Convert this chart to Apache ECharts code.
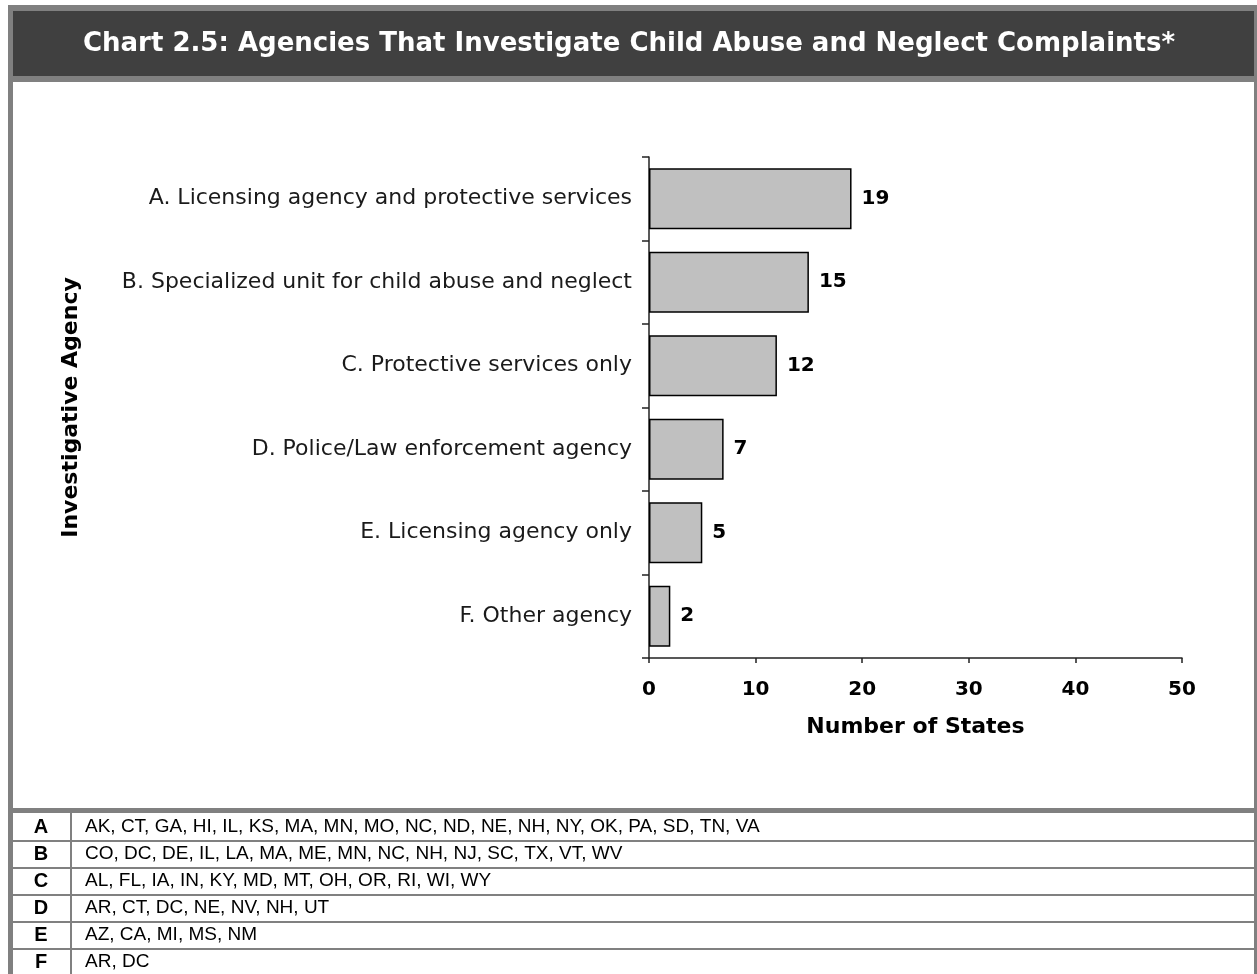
<!DOCTYPE html>
<html>
<head>
<meta charset="utf-8">
<script src="https://cdn.jsdelivr.net/npm/echarts@6/dist/echarts.min.js"></script>
<style>
html,body{margin:0;padding:0;background:#fff;}
#chart{width:1257px;height:974px;}
</style>
</head>
<body>
<div id="chart"></div>
<script>
const titleText = 'Chart 2.5: Agencies That Investigate Child Abuse and Neglect Complaints*';
const categories = [
  'A. Licensing agency and protective services',
  'B. Specialized unit for child abuse and neglect',
  'C. Protective services only',
  'D. Police/Law enforcement agency',
  'E. Licensing agency only',
  'F. Other agency'
];
const values = [19, 15, 12, 7, 5, 2];
const xTicks = [0, 10, 20, 30, 40, 50];
const xAxisName = 'Number of States';
const yAxisName = 'Investigative Agency';
const tableLetters = ['A', 'B', 'C', 'D', 'E', 'F'];
const tableStates = [
  'AK, CT, GA, HI, IL, KS, MA, MN, MO, NC, ND, NE, NH, NY, OK, PA, SD, TN, VA',
  'CO, DC, DE, IL, LA, MA, ME, MN, NC, NH, NJ, SC, TX, VT, WV',
  'AL, FL, IA, IN, KY, MD, MT, OH, OR, RI, WI, WY',
  'AR, CT, DC, NE, NV, NH, UT',
  'AZ, CA, MI, MS, NM',
  'AR, DC'
];

const GRAY = '#808080';
const VFONT = 'DejaVu Sans, Verdana, sans-serif';
const AFONT = 'Liberation Sans, Arial, sans-serif';

const graphics = [
  {type:'rect', shape:{x:8,y:5,width:1249,height:969}, style:{fill:GRAY}, z:-10, silent:true},
  {type:'rect', shape:{x:13,y:11,width:1241,height:65}, style:{fill:'#404040'}, z:-9, silent:true},
  {type:'rect', shape:{x:13,y:82,width:1241,height:726}, style:{fill:'#ffffff'}, z:-9, silent:true},
  {type:'text', x:629, y:44, style:{text:titleText, fill:'#ffffff', font:'bold 26px ' + VFONT, textAlign:'center', textVerticalAlign:'middle'}, z:5}
];
const rowTop = 813, rowPitch = 27;
tableLetters.forEach(function(l, i){
  const y0 = rowTop + i*rowPitch;
  const h = (i === 0) ? 27 : 25;
  const yy = (i === 0) ? y0 : y0 + 2;
  graphics.push({type:'rect', shape:{x:13,y:yy,width:57,height:h+ (i===5?20:0)}, style:{fill:'#fff'}, z:-9, silent:true});
  graphics.push({type:'rect', shape:{x:72,y:yy,width:1182,height:h+ (i===5?20:0)}, style:{fill:'#fff'}, z:-9, silent:true});
  const cy = y0 + 14;
  graphics.push({type:'text', x:41, y:cy, style:{text:l, fill:'#000', font:'bold 20px ' + AFONT, textAlign:'center', textVerticalAlign:'middle'}, z:5});
  graphics.push({type:'text', x:85, y:cy, style:{text:tableStates[i], fill:'#000', font:'19px ' + AFONT, textAlign:'left', textVerticalAlign:'middle'}, z:5});
});

const chart = echarts.init(document.getElementById('chart'), null, {renderer:'canvas'});
chart.setOption({
  animation:false,
  backgroundColor:'transparent',
  graphic: graphics,
  grid:{left:649, right:75, top:157, bottom:316, containLabel:false},
  xAxis:{
    type:'value', min:xTicks[0], max:xTicks[xTicks.length-1], interval:10,
    name:xAxisName, nameLocation:'middle', nameGap:58,
    nameTextStyle:{fontFamily:VFONT, fontWeight:'bold', fontSize:22, color:'#000'},
    axisLine:{show:true, lineStyle:{color:'#222', width:1.5}},
    axisTick:{show:true, length:5, lineStyle:{color:'#222', width:1.5}},
    splitLine:{show:false},
    axisLabel:{margin:22, fontFamily:VFONT, fontWeight:'bold', fontSize:20, color:'#000'}
  },
  yAxis:{
    type:'category', data:categories, inverse:true,
    name:yAxisName, nameLocation:'middle', nameGap:567, nameRotate:90,
    nameTextStyle:{fontFamily:VFONT, fontWeight:'bold', fontSize:22, color:'#000'},
    axisLine:{show:true, lineStyle:{color:'#222', width:1.5}},
    axisTick:{show:true, length:7, lineStyle:{color:'#222', width:1.5}},
    axisLabel:{margin:17, fontFamily:VFONT, fontSize:22, color:'#1a1a1a'}
  },
  series:[{
    type:'bar', data:values, barWidth:61,
    itemStyle:{color:'#c0c0c0', borderColor:'#000', borderWidth:1.5},
    label:{show:true, position:'right', distance:10, fontFamily:VFONT, fontWeight:'bold', fontSize:20, color:'#000'}
  }]
});
</script>
</body>
</html>
